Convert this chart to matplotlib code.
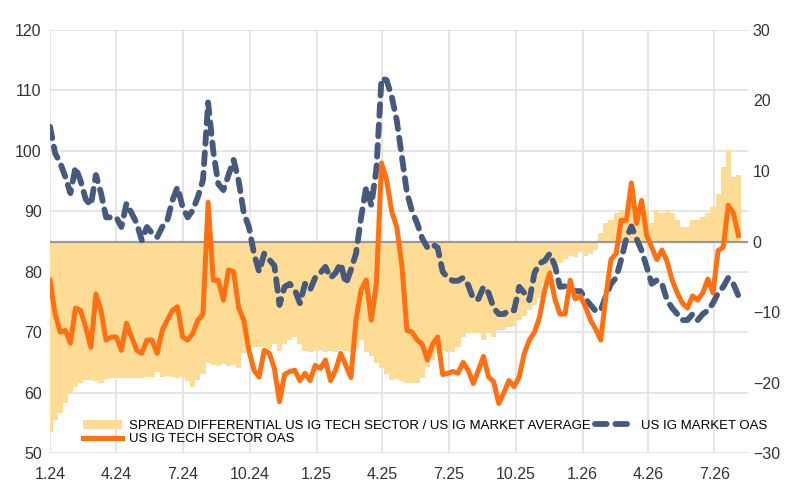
import numpy as np
import pandas as pd
import matplotlib
matplotlib.use("Agg")
import matplotlib.pyplot as plt

plt.rcParams['font.family'] = ['Liberation Sans', 'DejaVu Sans']

# weekly observations, Jan 2024 - Aug 2026
dates = pd.date_range("2024-01-01", periods=136, freq="7D")

market_oas = [
    104, 99.6, 98, 95.7, 93, 97.3, 95, 92, 91, 96,
    93, 89, 89, 89, 87.4, 91.3, 89.7, 88, 85.2, 87.4,
    86.4, 85.7, 87.4, 88.5, 91.8, 94, 90.7, 89, 90.2, 92.4,
    95.2, 108, 100, 94.5, 93.5, 96, 98.5, 95, 89.7, 87.4,
    83, 80, 83, 82, 81, 74.5, 77.5, 78, 77, 74.8,
    78, 77, 79, 79.8, 80.8, 79, 79.8, 81.4, 78, 80.3,
    83, 89, 94, 91, 97, 112, 111.7, 109, 105, 99,
    93, 90, 88, 85.5, 84, 84.5, 84, 80, 79, 78.5,
    78.5, 79, 77.8, 75.5, 75.5, 77.5, 76.5, 74, 73, 73,
    73.6, 73.6, 77.5, 76.5, 75.3, 79.8, 81.4, 81.8, 83, 81,
    77.5, 77.6, 77, 76.8, 76.8, 75.5, 74.5, 73.5, 73.6, 76,
    78, 79, 82, 85.5, 87.5, 85.5, 83.5, 80.8, 78, 78.6,
    78, 75.3, 74, 73, 72, 72, 73, 72, 73, 73.6,
    74.8, 76.5, 77.5, 79, 78, 76,
]

tech_oas = [
    78.6, 73, 70, 70.3, 68.2, 74, 73.6, 70.8, 67.5, 76.3,
    73.6, 68.7, 69.2, 69.2, 67, 71.5, 69.2, 67, 66.5, 68.7,
    68.7, 66.5, 70.3, 72, 73.6, 74.2, 69.2, 68.7, 69.8, 72,
    73, 91.5, 78.6, 78.6, 75.3, 80.3, 80, 74, 72, 67,
    63.7, 62.6, 67, 66.5, 64, 58.5, 63, 63.5, 63.7, 62,
    63.2, 62, 64.5, 64, 65.4, 62, 63.7, 66.5, 64.5, 62.5,
    72, 77, 78.6, 72, 78, 98, 95.2, 90, 87.4, 81,
    70.3, 70, 68.7, 68, 65.4, 68, 69.2, 63, 63.2, 63.5,
    63.2, 65, 63.7, 61.5, 63.7, 66, 62.6, 61.8, 58.2, 60,
    62, 61, 62.6, 66.5, 68.7, 70, 72.5, 77, 79.8, 75.5,
    73, 73, 78.6, 75.5, 76, 74.2, 72, 70.5, 68.7, 76,
    82, 83, 88.5, 88.5, 94.7, 88, 91.8, 86, 84, 82,
    83.6, 81.7, 78.6, 76.5, 74.8, 74, 76, 75.3, 76.5, 78.8,
    76.5, 83.5, 84, 91, 89.7, 86,
]

spread_diff = [
    -27, -25.3, -24.3, -22.9, -21.5, -20.6, -20, -19.6, -19.7, -19.8,
    -20, -19.5, -19.4, -19.4, -19.4, -19.3, -19.4, -19.3, -19.4, -19.2,
    -19.2, -18.5, -19.2, -19, -19.2, -19.3, -19.2, -19.8, -20.6, -19.6,
    -18.8, -17.2, -17.5, -17.6, -17.4, -17.6, -17.5, -18, -15.8, -15.5,
    -15, -15, -15, -15.2, -14.5, -15.5, -14.5, -14, -13.5, -14.5,
    -15.5, -15.6, -15.5, -15.4, -15.6, -15.5, -15.6, -15.4, -15.5, -15.6,
    -15.3, -14, -15.6, -16.2, -17.2, -18, -18.8, -19.7, -19.5, -19.8,
    -20, -20, -20, -19.4, -17.8, -16.8, -15.8, -15.5, -15.6, -15.6,
    -15, -13.5, -13, -13, -13, -14, -13, -13.5, -12.6, -12.6,
    -12.1, -12, -11.1, -10.5, -9.7, -9, -8, -6, -4.5, -3.5,
    -3, -2.5, -2, -2.2, -1.5, -2, -1.8, -1.2, 1.2, 2.6,
    3, 4, 4.5, 3, 5.9, 4.9, 3.5, 4.5, 2.6, 4.5,
    4, 4.5, 4, 3, 2, 2, 3, 3, 3.5, 4,
    4.9, 6.8, 10.5, 13, 9.1, 9.5,
]

tick_dates = pd.date_range("2024-01-01", "2026-07-01", freq="QS")
tick_labels = ["%d.%s" % (d.month, str(d.year)[2:]) for d in tick_dates]

fig = plt.figure(figsize=(7.99, 4.99), dpi=100)
ax = fig.add_axes([0.0626, 0.092, 0.8735, 0.848])
ax2 = ax.twinx()

ax.set_zorder(ax2.get_zorder() + 1)
ax.patch.set_visible(False)

# bars on right axis
ax2.bar(dates, spread_diff, width=7, color="#FFDC96", linewidth=0,
        label="SPREAD DIFFERENTIAL US IG TECH SECTOR / US IG MARKET AVERAGE")
ax2.axhline(0, color="#999999", lw=1.6, zorder=1)
ax2.set_ylim(-30, 30)
ax2.set_yticks(range(-30, 31, 10))

ax.plot(dates, market_oas, color="#465A7E", lw=4.2, dashes=(2.0, 1.5),
        dash_capstyle="round", label="US IG MARKET OAS")
ax.plot(dates, tech_oas, color="#FF7012", lw=3.6, label="US IG TECH SECTOR OAS")
ax.set_ylim(50, 120)
ax.set_yticks(range(50, 121, 10))

ax.set_xlim(pd.Timestamp("2024-01-01"), pd.Timestamp("2026-08-16"))
ax.set_xticks(tick_dates)
ax.set_xticklabels(tick_labels)

for y in range(50, 121, 10):
    ax2.axhline(-30 + (y - 50) * 60 / 70, color="#E0E0E0", lw=1.2, zorder=0)
for d in tick_dates:
    ax2.axvline(d, color="#E0E0E0", lw=1.2, zorder=0)

for a in (ax, ax2):
    for s in a.spines.values():
        s.set_visible(False)
    a.tick_params(length=0, labelsize=11.5, colors="#333333")
ax.tick_params(axis="x", pad=10)
ax.tick_params(axis="y", pad=6)

h1, l1 = ax2.get_legend_handles_labels()
h2, l2 = ax.get_legend_handles_labels()
leg = ax.legend([h1[0], h2[1], h2[0]], [l1[0], l2[1], l2[0]], ncol=2,
                loc="lower left", bbox_to_anchor=(0.03, -0.01), frameon=False,
                fontsize=9.5, handlelength=3, columnspacing=0.3,
                labelspacing=0.1, handletextpad=0.5)

fig.savefig("out.png", dpi=100)
